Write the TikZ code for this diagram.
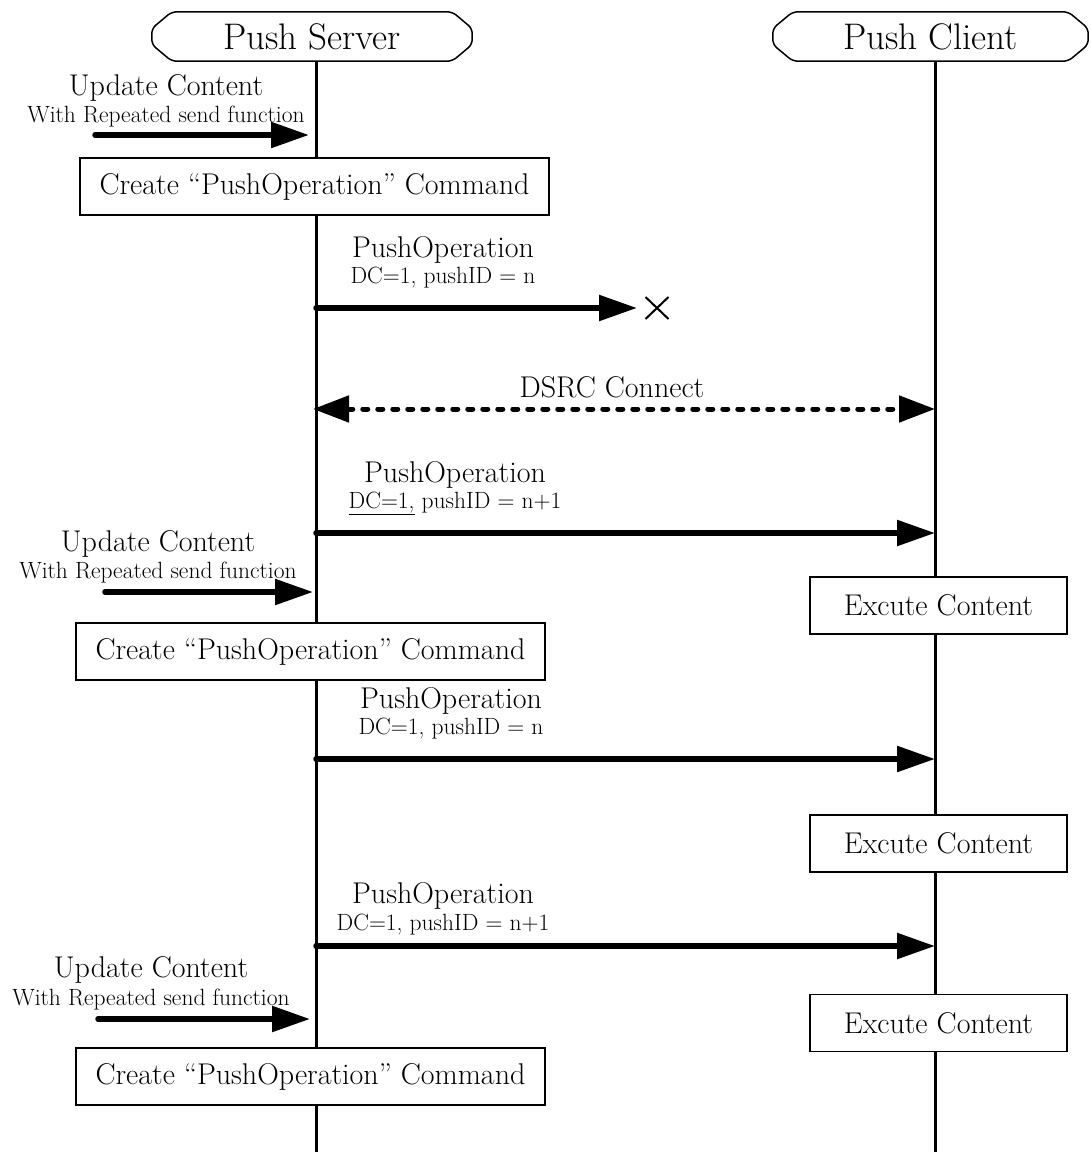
\documentclass[tikz,border=0pt]{standalone}
\usetikzlibrary{arrows.meta,shapes.misc}
\begin{document}
\begin{tikzpicture}[x=1pt,y=-1pt,
  hdrfont/.style={font=\fontsize{37}{40}\selectfont},
  midfont/.style={font=\fontsize{30}{34}\selectfont},
  smallfont/.style={font=\fontsize{23.5}{27}\selectfont},
  lifeline/.style={line width=3pt},
  hdrshape/.style={line width=1.5pt, rounded corners=5pt},
  msg/.style={line width=5.5pt, line cap=round, -{Triangle[length=38pt,width=25pt]}},
  connmsg/.style={line width=5pt, line cap=round, dash pattern=on 5pt off 10pt,
    {Triangle[length=36pt,width=26pt]}-{Triangle[length=36pt,width=26pt]}},
  actbox/.style={draw, line width=1.5pt, fill=white, midfont, minimum height=57pt, inner sep=0pt},
  lbl/.style={anchor=base, inner sep=0pt},
]
\useasboundingbox (0,0) rectangle (1091,1156);

% ---- participants ----
\node[hdrfont, minimum width=320pt, minimum height=49pt, inner sep=0pt] (srv) at (312,36.5) {Push Server};
\node[hdrfont, minimum width=315pt, minimum height=49pt, inner sep=0pt] (cli) at (930.5,36.5) {Push Client};
\foreach \h in {srv,cli}{
  \draw[hdrshape] ([xshift=20pt]\h.north west) -- ([xshift=-20pt]\h.north east)
    -- ([yshift=8pt]\h.east) -- ([yshift=-8pt]\h.east)
    -- ([xshift=-20pt]\h.south east) -- ([xshift=20pt]\h.south west)
    -- ([yshift=-8pt]\h.west) -- ([yshift=8pt]\h.west) -- cycle;
}

% ---- lifelines ----
\coordinate (srvEnd) at (316,1152);
\coordinate (cliEnd) at (935,1152);
\draw[lifeline] (srvEnd |- srv.south) -- (srvEnd);
\draw[lifeline] (cliEnd |- cli.south) -- (cliEnd);

% ---- first update ----
\node[lbl, midfont] (up1) at (166,95) {Update Content};
\node[lbl, smallfont] (up1b) at (166,122) {With Repeated send function};
\coordinate (u1s) at (95,135);
\coordinate (u1e) at (309,135);
\draw[msg] (u1s) -- (u1e);
\node[actbox, minimum width=469pt] (cr1) at (314.5,186.5) {Create \textquotedblleft PushOperation\textquotedblright\ Command};

% ---- lost push ----
\node[lbl, midfont] (po1) at (443,257) {PushOperation};
\node[lbl, smallfont] (po1b) at (443,283) {DC=1, pushID = n};
\coordinate (p1s) at (316,308);
\coordinate (p1e) at (637,308);
\draw[msg] (p1s) -- (p1e);
\node[cross out, draw, line width=2pt, minimum width=21pt, minimum height=20pt, inner sep=0pt] (lost) at (657,308) {};

% ---- connection ----
\node[lbl, midfont] (dsrc) at (612,397) {DSRC Connect};
\coordinate (c1s) at (313,409);
\coordinate (c1e) at (935,409);
\draw[connmsg] (c1s) -- (c1e);

% ---- second push ----
\node[lbl, midfont] (po2) at (455,482) {PushOperation};
\node[lbl, smallfont] (po2b) at (455,508) {\underline{DC=1,} pushID = n+1};
\coordinate (p2s) at (316,533);
\coordinate (p2e) at (935,533);
\draw[msg] (p2s) -- (p2e);

% ---- second update ----
\node[lbl, midfont] (up2) at (158,551) {Update Content};
\node[lbl, smallfont] (up2b) at (158,578) {With Repeated send function};
\coordinate (u2s) at (105,592);
\coordinate (u2e) at (313,592);
\draw[msg] (u2s) -- (u2e);
\node[actbox, minimum width=257pt] (ex1) at (938.5,605.5) {Excute Content};
\node[actbox, minimum width=469pt] (cr2) at (310.5,651.5) {Create \textquotedblleft PushOperation\textquotedblright\ Command};

% ---- third push ----
\node[lbl, midfont] (po3) at (451,708) {PushOperation};
\node[lbl, smallfont] (po3b) at (451,734) {DC=1, pushID = n};
\coordinate (p3s) at (316,759);
\coordinate (p3e) at (935,759);
\draw[msg] (p3s) -- (p3e);
\node[actbox, minimum width=257pt] (ex2) at (938.5,843.5) {Excute Content};

% ---- fourth push ----
\node[lbl, midfont] (po4) at (443,903) {PushOperation};
\node[lbl, smallfont] (po4b) at (443,930) {DC=1, pushID = n+1};
\coordinate (p4s) at (316,946);
\coordinate (p4e) at (935,946);
\draw[msg] (p4s) -- (p4e);

% ---- third update ----
\node[lbl, midfont] (up3) at (151,977) {Update Content};
\node[lbl, smallfont] (up3b) at (151,1005) {With Repeated send function};
\coordinate (u3s) at (98,1019);
\coordinate (u3e) at (310,1019);
\draw[msg] (u3s) -- (u3e);
\node[actbox, minimum width=257pt] (ex3) at (938.5,1023) {Excute Content};
\node[actbox, minimum width=469pt] (cr3) at (310.5,1076.5) {Create \textquotedblleft PushOperation\textquotedblright\ Command};
\end{tikzpicture}
\end{document}
